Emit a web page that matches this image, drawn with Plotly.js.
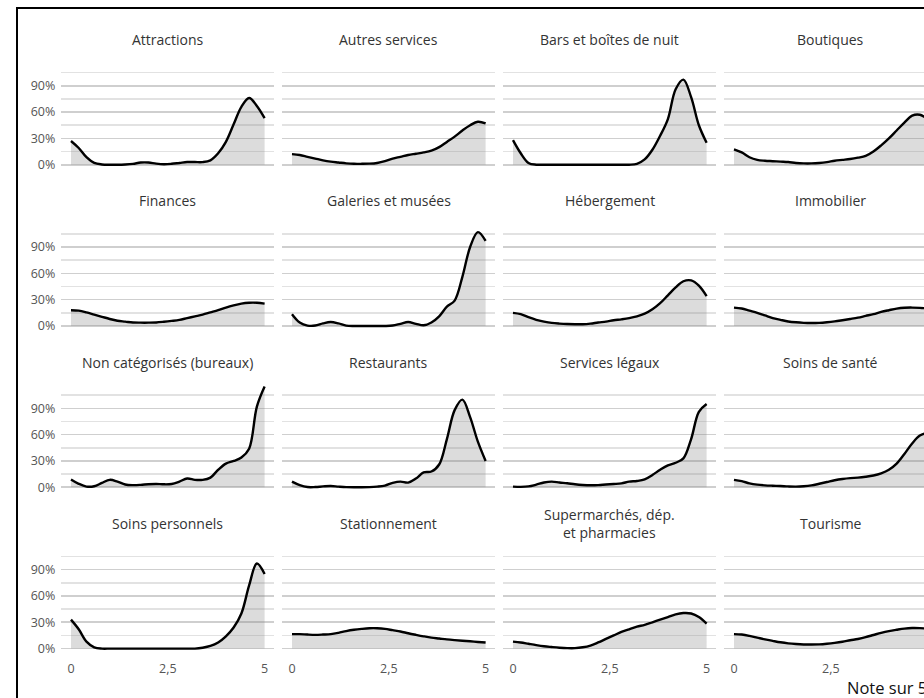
<!DOCTYPE html>
<html><head><meta charset="utf-8">
<script src="https://cdn.plot.ly/plotly-3.0.1.min.js"></script>
<style>html,body{margin:0;padding:0;overflow:hidden;background:#fff}#chart{width:960px;height:698px}</style>
</head><body><div id="chart"></div><script>
// Note sur 5 (x grid of the density curves)
const rating = [0,0.2,0.4,0.6,0.8,1.0,1.2,1.4,1.6,1.8,2.0,2.2,2.4,2.6,2.8,3.0,3.2,3.4,3.6,3.8,4.0,4.2,4.4,4.6,4.8,5.0];
const categories = ["Attractions","Autres services","Bars et boîtes de nuit","Boutiques",
  "Finances","Galeries et musées","Hébergement","Immobilier",
  "Non catégorisés (bureaux)","Restaurants","Services légaux","Soins de santé",
  "Soins personnels","Stationnement","Supermarchés, dép.<br>et pharmacies","Tourisme"];
const xTickVals = [0, 2.5, 5];
const xTickText = ["0", "2,5", "5"];

const attractions   = [.27,.19,.085,.02,.003,0,0,.003,.01,.025,.025,.012,.005,.01,.02,.03,.03,.03,.05,.13,.26,.46,.66,.76,.67,.53];
const autresServ    = [.12,.11,.09,.07,.05,.035,.025,.015,.01,.01,.012,.02,.04,.07,.09,.11,.125,.14,.16,.20,.26,.32,.39,.45,.49,.47];
const bars          = [.28,.13,.02,0,0,0,0,0,0,0,0,0,0,0,0,0,.01,.06,.17,.33,.52,.86,.97,.77,.45,.25];
const boutiques     = [.175,.14,.085,.055,.045,.04,.035,.03,.02,.015,.015,.02,.03,.045,.055,.065,.08,.10,.15,.22,.30,.39,.48,.56,.57,.52];
const finances      = [.18,.175,.155,.13,.105,.08,.06,.05,.04,.038,.038,.04,.048,.058,.07,.09,.11,.13,.155,.18,.21,.235,.255,.265,.265,.255];
const galeries      = [.135,.04,.005,.005,.03,.045,.03,.005,0,0,0,0,0,.005,.025,.045,.025,.008,.04,.11,.22,.29,.56,.90,1.07,.97];
const hebergement   = [.15,.135,.10,.07,.05,.035,.027,.022,.02,.02,.027,.04,.05,.065,.076,.09,.11,.14,.19,.26,.35,.44,.51,.52,.46,.34];
const immobilier    = [.21,.20,.175,.15,.12,.09,.07,.052,.042,.036,.034,.036,.043,.053,.066,.08,.095,.115,.135,.16,.18,.198,.208,.21,.207,.20];
const nonCat        = [.09,.04,.008,.012,.05,.085,.065,.032,.025,.028,.035,.038,.034,.038,.065,.10,.085,.085,.11,.20,.27,.30,.34,.44,.92,1.15];
const restaurants   = [.065,.025,.003,.003,.01,.015,.008,.002,0,0,.002,.008,.02,.05,.065,.054,.10,.17,.18,.26,.55,.88,1.00,.80,.52,.30];
const servLegaux    = [.008,.005,.01,.03,.055,.065,.055,.046,.035,.027,.023,.025,.032,.038,.045,.065,.072,.09,.14,.20,.25,.28,.33,.55,.86,.95];
const soinsSante    = [.085,.07,.045,.03,.022,.018,.015,.01,.008,.012,.022,.04,.06,.08,.095,.105,.11,.12,.135,.16,.20,.27,.38,.50,.59,.62];
const soinsPerso    = [.33,.22,.08,.015,0,0,0,0,0,0,0,0,0,0,0,0,0,.01,.03,.07,.14,.24,.40,.72,.97,.85];
const stationnement = [.165,.165,.16,.157,.16,.165,.18,.20,.215,.225,.232,.232,.225,.21,.195,.175,.157,.14,.125,.115,.105,.097,.09,.083,.076,.069];
const supermarches  = [.08,.07,.055,.04,.027,.018,.01,.005,.005,.015,.035,.07,.11,.15,.19,.22,.25,.27,.30,.33,.36,.39,.405,.40,.36,.285];
const tourisme      = [.165,.16,.145,.125,.105,.088,.072,.06,.052,.047,.046,.048,.055,.065,.078,.095,.11,.13,.155,.18,.20,.215,.228,.234,.233,.228];

const seriesList = [attractions,autresServ,bars,boutiques,finances,galeries,hebergement,immobilier,
  nonCat,restaurants,servLegaux,soinsSante,soinsPerso,stationnement,supermarches,tourisme];

// geometry (pixels)
const W = 960, H = 698;
const colLeft = [61.3, 282.3, 503.3, 724.3], panelW = 213;
const rowTop = [59.7, 221.0, 382.3, 543.6], panelH = 110;
const titleY = [39, 200, 362, 523];

const font = "Open Sans, Lato, sans-serif";
const traces = [], annotations = [];
const layout = {
  width: W, height: H, margin: {l:0, r:0, t:0, b:0},
  paper_bgcolor: "#fff", plot_bgcolor: "rgba(0,0,0,0)",
  showlegend: false, font: {family: font, color: "#444"},
  annotations: annotations,
  shapes: [{type:"rect", xref:"paper", yref:"paper",
    x0: 17/W, x1: 1.05, y0: -0.05, y1: 1 - 8/H,
    line: {color:"#000", width:2}, fillcolor:"rgba(0,0,0,0)"}]
};

for (let i = 0; i < 16; i++) {
  const r = Math.floor(i/4), c = i % 4;
  const sfx = i === 0 ? "" : String(i+1);
  const xa = "xaxis" + sfx, ya = "yaxis" + sfx;
  layout[xa] = {
    domain: [colLeft[c]/W, (colLeft[c]+panelW)/W],
    range: [-0.25, 5.25], anchor: "y" + sfx,
    showgrid: false, zeroline: false, showline: false, ticks: "",
    tickmode: "array", tickvals: xTickVals, ticktext: xTickText,
    showticklabels: r === 3, tickfont: {size: 12.5, color: "#555"}, ticklabelstandoff: 6
  };
  layout[ya] = {
    domain: [1 - (rowTop[r]+panelH)/H, 1 - rowTop[r]/H],
    range: [-0.057, 1.197], anchor: "x" + sfx,
    tick0: 0, dtick: 0.3, tickformat: ".0%",
    showgrid: true, gridcolor: "#cfcfcf", gridwidth: 1.6,
    minor: {tick0: 0, dtick: 0.15, showgrid: true, gridcolor: "#e2e2e2", gridwidth: 1.6},
    zeroline: false, showline: false, ticks: "",
    showticklabels: c === 0, tickfont: {size: 12.5, color: "#555"}, ticklabelstandoff: 5
  };
  traces.push({
    type: "scatter", mode: "lines", x: rating, y: seriesList[i],
    xaxis: "x" + sfx, yaxis: "y" + sfx,
    line: {color: "#000", width: 2.4, shape: "spline", smoothing: 1},
    fill: "tozeroy", fillcolor: "rgba(128,128,128,0.28)", hoverinfo: "skip"
  });
  annotations.push({
    text: categories[i], xref: "paper", yref: "paper",
    x: (colLeft[c] + panelW/2)/W, y: 1 - titleY[r]/H,
    xanchor: "center", yanchor: "middle", showarrow: false,
    font: {size: 14, color: "#333", family: font}
  });
}
annotations.push({
  text: "Note sur 5", xref: "paper", yref: "paper",
  x: 929/W, y: 1 - 687/H, xanchor: "right", yanchor: "middle",
  showarrow: false, font: {size: 16.5, color: "#111", family: font}
});

Plotly.newPlot("chart", traces, layout, {staticPlot: true, displayModeBar: false});
</script></body></html>
